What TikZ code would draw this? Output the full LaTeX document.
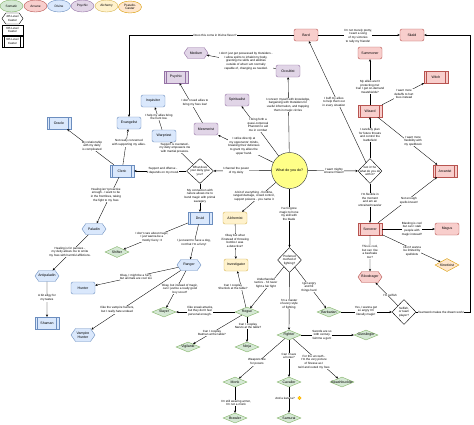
\documentclass[tikz,border=0pt]{standalone}
\usepackage{fontspec}
\setmainfont{Liberation Sans}
\usetikzlibrary{shapes.geometric,shapes.symbols,arrows.meta}
\definecolor{grnF}{HTML}{D5E8D4}\definecolor{grnD}{HTML}{82B366}
\definecolor{redF}{HTML}{F8CECC}\definecolor{redD}{HTML}{B85450}
\definecolor{bluF}{HTML}{DAE8FC}\definecolor{bluD}{HTML}{6C8EBF}
\definecolor{purF}{HTML}{E1D5E7}\definecolor{purD}{HTML}{9673A6}
\definecolor{yelF}{HTML}{FFF2CC}\definecolor{yelD}{HTML}{D6B656}
\definecolor{orgF}{HTML}{FFE6CC}\definecolor{orgD}{HTML}{D79B00}
\definecolor{noteF}{HTML}{FFFF88}\definecolor{noteD}{HTML}{36393D}
\begin{document}
\begin{tikzpicture}[x=1pt,y=-1pt,
 every node/.style={font=\fontsize{3.5}{4.1}\selectfont, align=center, inner sep=0.5pt, line width=0.4pt},
 lbl/.style={font=\fontsize{3}{3.7}\selectfont, fill=white, inner sep=0.3pt},
 cls/.style={minimum width=24pt, minimum height=12pt},
 nine/.style={cls, rectangle, path picture={\draw[#1, line width=0.4pt]
   ([xshift=2.5pt]path picture bounding box.north west) -- ([xshift=2.5pt]path picture bounding box.south west)
   ([xshift=-2.5pt]path picture bounding box.north east) -- ([xshift=-2.5pt]path picture bounding box.south east);}},
 six/.style={cls, rectangle, rounded corners=2pt},
 four/.style={shape=signal, signal to=west and east, signal pointer angle=110, minimum width=24pt, minimum height=11pt, inner xsep=-1pt},
 zero/.style={diamond, aspect=2.6, minimum width=24pt, minimum height=10pt, inner sep=-1.5pt},
 grn/.style={fill=grnF, draw=grnD}, arc/.style={fill=redF, draw=redD},
 div/.style={fill=bluF, draw=bluD}, psy/.style={fill=purF, draw=purD},
 alc/.style={fill=yelF, draw=yelD}, org/.style={fill=orgF, draw=orgD},
 leg/.style={ellipse, minimum width=23pt, minimum height=12pt, inner sep=0pt, font=\fontsize{3.2}{3.7}\selectfont},
 dec/.style={diamond, draw, fill=white, aspect=1, minimum width=24pt, minimum height=25pt, inner sep=-2.5pt, font=\fontsize{3}{3.6}\selectfont},
 what/.style={circle, fill=noteF, draw=noteD, minimum size=36pt, inner sep=0pt, font=\fontsize{3.6}{4.2}\selectfont},
 ar/.style={-{Stealth[length=2.4pt,width=2.2pt]}, line width=0.35pt}
]
\fill[white] (0,0) rectangle (474,424);
\useasboundingbox (0,0) rectangle (474,424);
% legend
\node[leg,grn] (lsom) at (11.5,6) {Somatic};
\node[leg,arc] (larc) at (35.5,6) {Arcane};
\node[leg,div] (ldiv) at (59,6) {Divine};
\node[leg,psy] (lpsy) at (82.5,6) {Psychic};
\node[leg,alc] (lalc) at (106.5,6) {Alchemy};
\node[leg,org] (lpse) at (130,7) {Pseudo-\\Caster};
\node[four, draw, fill=white, minimum width=21pt, minimum height=11pt, font=\fontsize{3}{3.6}\selectfont] (l4) at (12.5,18.5) {4th Level\\Caster};
\node[rectangle, draw, fill=white, minimum width=21pt, minimum height=10.5pt, font=\fontsize{3}{3.6}\selectfont] (l6) at (12.5,30) {6th Level\\Caster};
\node[nine=black, draw, fill=white, minimum width=21pt, minimum height=11pt, font=\fontsize{3}{3.6}\selectfont] (l9) at (12.5,41.5) {9th Level\\Caster};
% arcane
\node[six,arc] (bard) at (306,35) {Bard};
\node[six,arc] (skald) at (412,35) {Skald};
\node[six,arc] (summ) at (370,53) {Summoner};
\node[nine=redD,arc] (witch) at (436,77) {Witch};
\node[nine=redD,arc] (wiz) at (370,111) {Wizard};
\node[nine=redD,arc] (arcan) at (445,171) {Arcanist};
\node[nine=redD,arc] (sorc) at (370,229) {Sorcerer};
\node[six,arc] (magus) at (447,229) {Magus};
\node[zero,org,minimum height=13pt] (kin) at (447,265) {Kineticist};
\node[four,arc] (blood) at (370,277) {Bloodrager};
% psychic
\node[four,psy] (medium) at (196,53) {Medium};
\node[six,psy] (occ) at (288,71) {Occultist};
\node[nine=purD,psy] (psych) at (176,77) {Psychic};
\node[six,psy] (spirit) at (237,100) {Spiritualist};
\node[six,psy] (mesm) at (206,129) {Mesmerist};
% divine
\node[six,div] (inq) at (153,101) {Inquisitor};
\node[six,div] (evan) at (129,123) {Evangelist};
\node[six,div] (warp) at (164,136) {Warpriest};
\node[nine=bluD,div] (oracle) at (59,123) {Oracle};
\node[nine=bluD,div] (cleric) at (122,171) {Cleric};
\node[nine=bluD,div] (druid) at (200,218) {Druid};
\node[four,div] (pal) at (94,229) {Paladin};
\node[four,div] (anti) at (47,276) {Antipaladin};
\node[nine=bluD,div] (shaman) at (47,323) {Shaman};
\node[six,div] (hunter) at (83,288) {Hunter};
\node[four,div,minimum height=13pt] (vamp) at (83,335) {Vampire\\Hunter};
\node[four,div] (ranger) at (189,265) {Ranger};
% alchemy
\node[six,alc] (alch) at (235,218) {Alchemist};
\node[six,alc] (invest) at (236,265) {Investigator};
% somatic
\node[zero,grn,minimum height=11pt] (shifter) at (117,252) {Shifter};
\node[zero,grn] (slayer) at (164,312) {Slayer};
\node[zero,grn] (vigil) at (188,347) {Vigilante};
\node[zero,grn] (rogue) at (247,312) {Rogue};
\node[zero,grn] (ninja) at (247,347) {Ninja};
\node[zero,grn] (barb) at (329,312) {Barbarian};
\node[zero,grn] (fighter) at (289,335) {Fighter};
\node[zero,grn] (gun) at (366,335) {Gunslinger};
\node[zero,grn] (monk) at (235,382) {Monk};
\node[zero,grn] (caval) at (289,382) {Cavalier};
\node[zero,grn] (swash) at (342,382) {Swashbuckler};
\node[zero,grn] (brawler) at (235,418) {Brawler};
\node[zero,grn] (samurai) at (289,418) {Samurai};
% decisions
\node[what] (what) at (289.5,170.5) {What do you do?};
\node[dec] (arcD) at (370,171) {Got it! So\\what do you do\\with it?};
\node[dec, minimum width=27pt] (divD) at (200,171) {What does\\your deity give\\you?};
\node[dec] (fightD) at (289.5,260) {Preferred\\method of\\fighting?};
\node[dec] (rageD) at (404,312) {Selfish,\\or team\\player?};
\coordinate (c1) at (470,312);
% edges
\draw[ar] (what) -- (arcD);
\draw[ar] (arcD) -- (bard);
\draw[ar] (arcD) -- (wiz);
\draw[ar] (wiz) -- (summ);
\draw[ar] (wiz) -- (witch);
\draw[ar] (wiz) -- (arcan);
\draw[ar] (arcD) -- (sorc);
\draw[ar] (sorc) -- (arcan);
\draw[ar] (sorc) -- (magus);
\draw[ar] (sorc) -- (kin);
\draw[ar] (sorc) -- (blood);
\draw[ar] (bard) -- (skald);
\draw[ar] (bard) -| (evan);
\draw[ar] (rageD) -- (c1) |- (skald);
\draw[ar] (rageD) -- (blood);
\draw[ar] (barb) -- (rageD);
\draw[ar] (what) -- (occ);
\draw[ar] (occ) -- (medium);
\draw[ar] (what) -- (spirit);
\draw[ar] (what) -- (mesm);
\draw[ar] (mesm) -- (psych);
\draw[ar] (what) -- (divD);
\draw[ar] (divD) -- (cleric);
\draw[ar] (divD) -- (warp);
\draw[ar] (warp) -- (inq);
\draw[ar] (cleric) -- (evan);
\draw[ar] (cleric) -- (oracle);
\draw[ar] (cleric) -- (pal);
\draw[ar] (pal) -- (anti);
\draw[ar] (anti) -- (shaman);
\draw[ar] (divD) -- (druid);
\draw[ar] (druid) -- (shifter);
\draw[ar] (druid) -- (ranger);
\draw[ar] (ranger) -- (hunter);
\draw[ar] (ranger) -- (vamp);
\draw[ar] (ranger) -- (slayer);
\draw[ar] (what) -- (alch);
\draw[ar] (alch) -- (invest);
\draw[ar] (rogue) -- (invest);
\draw[ar] (what) -- (fightD);
\draw[ar] (fightD) -- (rogue);
\draw[ar] (fightD) -- (barb);
\draw[ar] (fightD) -- (fighter);
\draw[ar] (rogue) -- (slayer);
\draw[ar] (rogue) -- (vigil);
\draw[ar] (rogue) -- (ninja);
\draw[ar] (fighter) -- (gun);
\draw[ar] (fighter) -- (caval);
\draw[ar] (caval) -- (samurai);
\draw[ar] (fighter) -- (swash);
\draw[ar] (fighter) -- (monk);
\draw[ar] (monk) -- (brawler);
% labels
\node[lbl] (t1) at (334,171) {I want mighty\\Arcane Power!};
\node[lbl] (t2) at (334,102) {I buff my allies\\to help them out\\in every situation};
\node[lbl] (t3) at (370,135) {I carefully plan\\for future threats\\and control the\\battlefield};
\node[lbl] (t4) at (370,87) {My allies aren't\\protecting me!\\Can I get on-demand\\meatshields?};
\node[lbl] (t5) at (404,94) {I want more\\debuffs to hurt\\foes instead};
\node[lbl] (t6) at (413,141) {I want more\\flexibility with\\my spellbook};
\node[lbl] (t7) at (370,200) {I'm flexible in\\the moment\\and am an\\untrained traveler};
\node[lbl] (t8) at (409,201) {Not enough\\spells known!};
\node[lbl] (t9) at (412,229) {Blasting is cool\\but can I stab\\people with\\magic instead?};
\node[lbl] (t10) at (412,251) {I don't wanna\\be limited by\\spellslots};
\node[lbl] (t11) at (370,252) {This is cool,\\but can I be\\a beefcake\\too?};
\node[lbl] (t12) at (358,36) {I'm not merely pretty,\\I want a song\\of my victories\\to rally my friends!};
\node[lbl] (t13) at (215,35) {Does this come in Divine flavor?};
\node[lbl] (t14) at (441,312) {Teamwork makes the dream work!};
\node[lbl] (t15) at (390,295) {I'm selfish};
\node[lbl] (t16) at (366,311) {Yes, I wanna get\\so angry I'm\\literally magic!};
\node[lbl] (t17) at (288,105) {I concern myself with knowledge,\\bargaining with Outsiders for\\useful information, and trapping\\them in magic circles};
\node[lbl] (t18) at (246,61) {I don't just get possessed by Outsiders -\\I allow spirits to inhabit my body,\\granting me skills and abilities\\outside of what I am normally\\capable of, changing as needed.};
\node[lbl] (t19) at (258,125) {I bring forth a\\quasi-corporeal\\Phantom to aid\\me in combat};
\node[lbl] (t20) at (244,146) {I strike directly at\\my opponents' minds,\\breaking their defenses\\to grant my allies the\\upper hand.};
\node[lbl] (t21) at (195,103) {I don't need allies to\\bring my foes low!};
\node[lbl] (t22) at (236,171) {I channel the power\\of my deity};
\node[lbl] (t23) at (163,171) {Support and offense -\\it depends on my mood.};
\node[lbl] (t24) at (175,148) {Support is overrated -\\my deity empowers me\\with martial prowess.};
\node[lbl] (t25) at (159,117) {I help my allies bring\\the hunt low.};
\node[lbl] (t26) at (129,143) {Not really concerned\\with supporting my allies.};
\node[lbl] (t27) at (92,146) {My relationship\\with my deity\\is complicated};
\node[lbl] (t28) at (106,195) {Healing isn't proactive\\enough - I want to be\\in the frontlines, taking\\the fight to my foes};
\node[lbl] (t29) at (70,252) {Healing is for pansies -\\my deity allows me to smite\\my foes with harmful afflictions.};
\node[lbl] (t30) at (47,298) {A bit edgy for\\my tastes};
\node[lbl] (t31) at (200,196) {My connection with\\nature allows me to\\bend magic with primal\\savagery};
\node[lbl] (t32) at (152,237) {I don't care about magic,\\I just wanna be a\\mostly fuzzy :3};
\node[lbl] (t33) at (194,243) {I just want to have a dog,\\not that I'm a furry!};
\node[lbl] (t34) at (136,277) {Okay, I might be a furry,\\but animals are cool too};
\node[lbl] (t35) at (117,310) {I like the vampire hunters,\\but I really hate undead};
\node[lbl] (t36) at (180,289) {Okay, but instead of magic,\\can I just be a really good\\boy scout?};
\node[lbl] (t37) at (254,196) {A bit of everything - frontline,\\ranged damage, crowd control,\\support poisons - you name it};
\node[lbl] (t38) at (235,241) {Okay but what\\if instead of throwing\\bombs I was\\a detective?};
\node[lbl] (t39) at (233,287) {Can I cosplay\\Sherlock at the table?};
\node[lbl] (t40) at (289,214) {I've forgone\\magic to hone\\my skill with\\the blade};
\node[lbl] (t41) at (266,283) {Underhanded\\tactics - I'd never\\fight a fair fight};
\node[lbl] (t42) at (309,287) {I get angry\\and hit\\things hard};
\node[lbl] (t43) at (289,304) {I'm a master\\of every style\\of fighting};
\node[lbl] (t44) at (200,311) {I like sneak attacks,\\but they don't feel\\personal enough.};
\node[lbl] (t45) at (212,333) {Can I cosplay\\Batman at the table?};
\node[lbl] (t46) at (248,326) {Can I cosplay\\Naruto at the table?};
\node[lbl] (t47) at (322,335) {Swords are so\\14th century.\\Gimme a gun!};
\node[lbl] (t48) at (289,356) {Can I have\\a horse?};
\node[lbl] (t49) at (285,398) {And a katana?};
\node[circle, fill=yellow!85!orange, draw=orange, line width=0.2pt, inner sep=0pt, minimum size=3.6pt] (smile) at (299.5,398) {};
\node[lbl] (t50) at (314,362) {For the uncouth -\\I'm the very picture\\of finesse as I\\twirl and outwit my foes};
\node[lbl] (t51) at (257,362) {Weapons are\\for posers};
\node[lbl] (t52) at (236,403) {I'm still wearing armor,\\I'm not a monk};
\end{tikzpicture}
\end{document}
